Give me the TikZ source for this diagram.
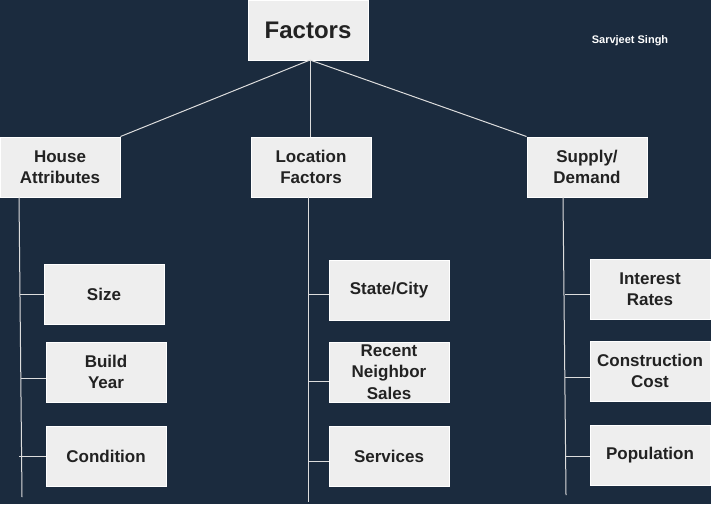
\documentclass[tikz,border=0pt]{standalone}
\usepackage{fontspec}
\setmainfont{Liberation Sans}
\definecolor{bgnavy}{HTML}{1B2B3E}
\definecolor{boxgray}{HTML}{EEEEEE}
\definecolor{txtgray}{HTML}{222222}
\definecolor{linegray}{HTML}{DDDDDD}
\tikzset{
  factbox/.style = {draw=white, fill=boxgray, text=txtgray, line width=1pt,
    minimum width=120pt, minimum height=60pt, inner sep=0pt, align=center,
    font=\fontsize{17}{21.5}\selectfont\bfseries},
  link/.style = {draw=linegray, line width=1pt}
}
\begin{document}
\begin{tikzpicture}[x=1pt, y=-1pt]
\fill[bgnavy] (0,0) rectangle (711,504);
\useasboundingbox (0,0) rectangle (711,504);

% top
\node[factbox, font=\fontsize{24}{28}\selectfont\bfseries] (factors) at (308,30) {Factors};
\node[text=white, font=\fontsize{11}{13}\selectfont\bfseries] (author) at (630,41) {Sarvjeet Singh};

% groups
\node[factbox] (house) at (60,167) {House\\Attributes};
\node[factbox] (loc) at (311,167) {Location\\Factors};
\node[factbox] (supply) at (587,167) {Supply/\\Demand};

\coordinate (top) at (310,60);
\draw[link] (top) -- (house.north east);
\draw[link] (top) -- (loc.north -| top);
\draw[link] (top) -- (supply.north west);

% house attributes
\node[factbox] (size) at (104,294) {Size};
\node[factbox] (build) at (106,372) {Build\\Year};
\node[factbox] (cond) at (106,456) {Condition};
\coordinate (hTop) at (19,197);
\coordinate (hEnd) at (22,497);
\draw[link] (hTop) -- (hEnd);
\draw[link] (size.west) -- ++(-24,0);
\draw[link] ([yshift=-6pt]build.west) -- ++(-25,0);
\draw[link] (cond.west) -- ++(-27,0);

% location factors
\node[factbox] (state) at (389,290) {State/City};
\node[factbox] (recent) at (389,372) {Recent\\Neighbor\\Sales};
\node[factbox] (serv) at (389,456) {Services};
\coordinate (lTop) at (308,197);
\coordinate (lEnd) at (308,502);
\draw[link] (lTop) -- (lEnd);
\draw[link] ([yshift=-4pt]state.west) -- ([yshift=-4pt]state.west -| lTop);
\draw[link] ([yshift=-9pt]recent.west) -- ([yshift=-9pt]recent.west -| lTop);
\draw[link] ([yshift=-5pt]serv.west) -- ([yshift=-5pt]serv.west -| lTop);

% supply / demand
\node[factbox] (interest) at (650,289) {Interest\\Rates};
\node[factbox] (constr) at (650,371) {Construction\\Cost};
\node[factbox] (popul) at (650,455) {Population};
\coordinate (sTop) at (563,197);
\coordinate (sEnd) at (566,495);
\draw[link] (sTop) -- (sEnd);
\draw[link] ([yshift=-5pt]interest.west) -- ++(-25,0);
\draw[link] ([yshift=-6pt]constr.west) -- ++(-25,0);
\draw[link] ([yshift=-1pt]popul.west) -- ++(-25,0);
\end{tikzpicture}
\end{document}
